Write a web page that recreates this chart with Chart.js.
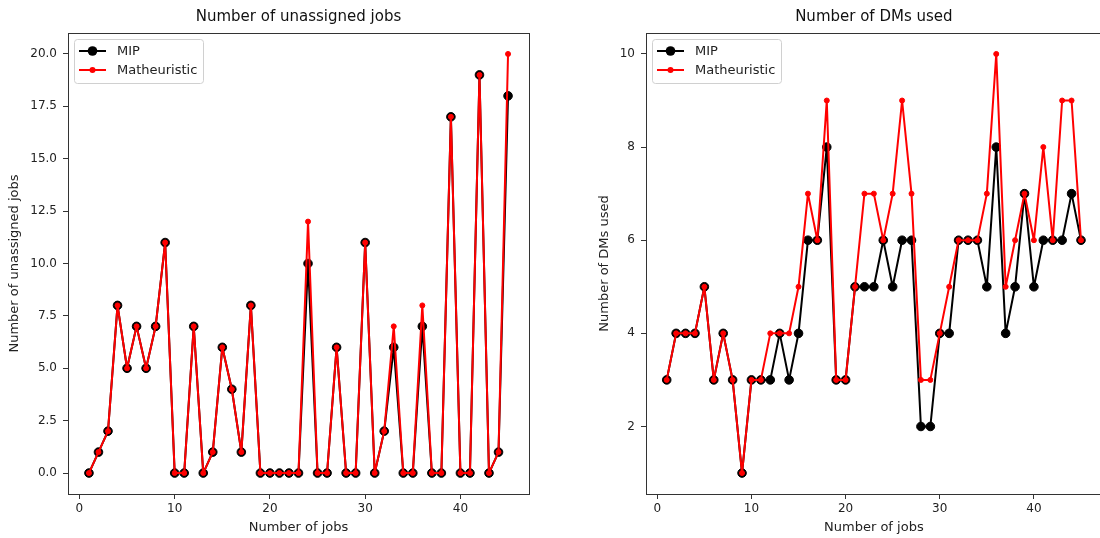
<!DOCTYPE html>
<html>
<head>
<meta charset="utf-8">
<script src="https://cdn.jsdelivr.net/npm/chart.js@4.4.1/dist/chart.umd.min.js"></script>
<style>
  html, body { margin: 0; padding: 0; background: #fff; overflow: hidden; }
  #wrap { position: relative; width: 1100px; height: 538px; overflow: hidden; }
  canvas { position: absolute; top: 0; }
  #left { left: 0; }
  #right { left: 590px; }
</style>
</head>
<body>
<div id="wrap">
  <canvas id="left" width="560" height="538"></canvas>
  <canvas id="right" width="517" height="538"></canvas>
</div>
<script>
// Data
const jobs = [1, 2, 3, 4, 5, 6, 7, 8, 9, 10, 11, 12, 13, 14, 15, 16, 17, 18, 19, 20,
  21, 22, 23, 24, 25, 26, 27, 28, 29, 30, 31, 32, 33, 34, 35, 36, 37, 38, 39, 40,
  41, 42, 43, 44, 45];

const mipUnassigned = [0, 1, 2, 8, 5, 7, 5, 7, 11, 0, 0, 7, 0, 1, 6, 4, 1, 8, 0, 0,
  0, 0, 0, 10, 0, 0, 6, 0, 0, 11, 0, 2, 6, 0, 0, 7, 0, 0, 17, 0,
  0, 19, 0, 1, 18];
const mathUnassigned = [0, 1, 2, 8, 5, 7, 5, 7, 11, 0, 0, 7, 0, 1, 6, 4, 1, 8, 0, 0,
  0, 0, 0, 12, 0, 0, 6, 0, 0, 11, 0, 2, 7, 0, 0, 8, 0, 0, 17, 0,
  0, 19, 0, 1, 20];

const mipDMs = [3, 4, 4, 4, 5, 3, 4, 3, 1, 3, 3, 3, 4, 3, 4, 6, 6, 8, 3, 3,
  5, 5, 5, 6, 5, 6, 6, 2, 2, 4, 4, 6, 6, 6, 5, 8, 4, 5, 7, 5,
  6, 6, 6, 7, 6];
const mathDMs = [3, 4, 4, 4, 5, 3, 4, 3, 1, 3, 3, 4, 4, 4, 5, 7, 6, 9, 3, 3,
  5, 7, 7, 6, 7, 9, 7, 3, 3, 4, 5, 6, 6, 6, 7, 10, 5, 6, 7, 6,
  8, 6, 9, 9, 6];

const jobTicks = [0, 10, 20, 30, 40];
const unassignedTicks = [0, 2.5, 5, 7.5, 10, 12.5, 15, 17.5, 20];
const dmTicks = [2, 4, 6, 8, 10];

Chart.defaults.font.family = "'DejaVu Sans', sans-serif";
Chart.defaults.color = '#222';

// frame on all four sides + legend box inside the axes (matplotlib style)
const framePlugin = {
  id: 'frame',
  afterDraw(chart) {
    const ctx = chart.ctx;
    const a = chart.chartArea;
    ctx.save();
    ctx.strokeStyle = '#333';
    ctx.lineWidth = 1;
    ctx.strokeRect(Math.round(a.left) + 0.5, Math.round(a.top) + 0.5,
      Math.round(a.right - a.left), Math.round(a.bottom - a.top));

    // legend
    const bx = a.left + 6, by = a.top + 6, bw = 129, bh = 44;
    ctx.beginPath();
    ctx.roundRect(bx + 0.5, by + 0.5, bw, bh, 3);
    ctx.fillStyle = 'rgba(255,255,255,0.8)';
    ctx.fill();
    ctx.strokeStyle = '#d0d0d0';
    ctx.stroke();

    ctx.font = "13px 'DejaVu Sans'";
    ctx.textBaseline = 'middle';
    chart.data.datasets.forEach((ds, i) => {
      const y = by + 12 + i * 19;
      ctx.strokeStyle = ds.borderColor;
      ctx.lineWidth = 2;
      ctx.beginPath();
      ctx.moveTo(bx + 5, y);
      ctx.lineTo(bx + 32, y);
      ctx.stroke();
      ctx.fillStyle = ds.pointBackgroundColor;
      ctx.beginPath();
      ctx.arc(bx + 18.5, y, ds.pointRadius + 0.5, 0, Math.PI * 2);
      ctx.fill();
      ctx.fillStyle = '#222';
      ctx.fillText(ds.label, bx + 43, y + 1);
    });
    ctx.restore();
  }
};

function makeChart(id, opts) {
  return new Chart(document.getElementById(id), {
    type: 'line',
    data: {
      datasets: [{
        label: 'MIP',
        data: jobs.map((j, i) => ({ x: j, y: opts.mip[i] })),
        borderColor: '#000',
        borderWidth: 2,
        borderJoinStyle: 'round',
        borderCapStyle: 'round',
        pointBackgroundColor: '#000',
        pointBorderColor: '#000',
        pointBorderWidth: 1,
        pointRadius: 4.3,
        tension: 0,
        order: 1
      }, {
        label: 'Matheuristic',
        data: jobs.map((j, i) => ({ x: j, y: opts.math[i] })),
        borderColor: '#ff0000',
        borderWidth: 2,
        borderJoinStyle: 'round',
        borderCapStyle: 'round',
        pointBackgroundColor: '#ff0000',
        pointBorderColor: '#ff0000',
        pointBorderWidth: 1,
        pointRadius: 2.5,
        tension: 0,
        order: 0
      }]
    },
    options: {
      responsive: false,
      animation: false,
      clip: false,
      layout: { padding: { left: 0, right: opts.padRight, top: 0, bottom: 0 } },
      plugins: {
        legend: { display: false },
        tooltip: { enabled: false },
        title: {
          display: true,
          text: opts.title,
          fullSize: false,
          color: '#111',
          font: { size: 15, weight: 'normal' },
          padding: { top: 8.5, bottom: 6.5 }
        }
      },
      scales: {
        x: {
          type: 'linear',
          min: -1.2,
          max: 47.2,
          afterBuildTicks: s => { s.ticks = jobTicks.map(v => ({ value: v })); },
          afterFit: s => { s.height = 44; },
          grid: { drawOnChartArea: false, drawTicks: true, tickLength: 5, tickColor: '#333' },
          border: { display: false },
          ticks: { autoSkip: false, maxRotation: 0, padding: 3, font: { size: 12 } },
          title: { display: true, text: 'Number of jobs', font: { size: 13 }, padding: { top: 0, bottom: 3 } }
        },
        y: {
          type: 'linear',
          min: opts.yMin,
          max: opts.yMax,
          afterBuildTicks: s => { s.ticks = opts.yTicks.map(v => ({ value: v })); },
          afterFit: s => { s.width = opts.yWidth; },
          grid: { drawOnChartArea: false, drawTicks: true, tickLength: 5, tickColor: '#333' },
          border: { display: false },
          ticks: { autoSkip: false, padding: 6, font: { size: 12 }, callback: opts.fmt },
          title: { display: true, text: opts.yTitle, font: { size: 13 }, padding: { top: 7, bottom: 0 } }
        }
      }
    },
    plugins: [framePlugin]
  });
}

makeChart('left', {
  title: 'Number of unassigned jobs',
  yTitle: 'Number of unassigned jobs',
  mip: mipUnassigned,
  math: mathUnassigned,
  yMin: -1, yMax: 21,
  yTicks: unassignedTicks,
  fmt: v => v.toFixed(1),
  yWidth: 68,
  padRight: 31
});

makeChart('right', {
  title: 'Number of DMs used',
  yTitle: 'Number of DMs used',
  mip: mipDMs,
  math: mathDMs,
  yMin: 0.55, yMax: 10.45,
  yTicks: dmTicks,
  fmt: v => String(v),
  yWidth: 56,
  padRight: 0
});
</script>
</body>
</html>
